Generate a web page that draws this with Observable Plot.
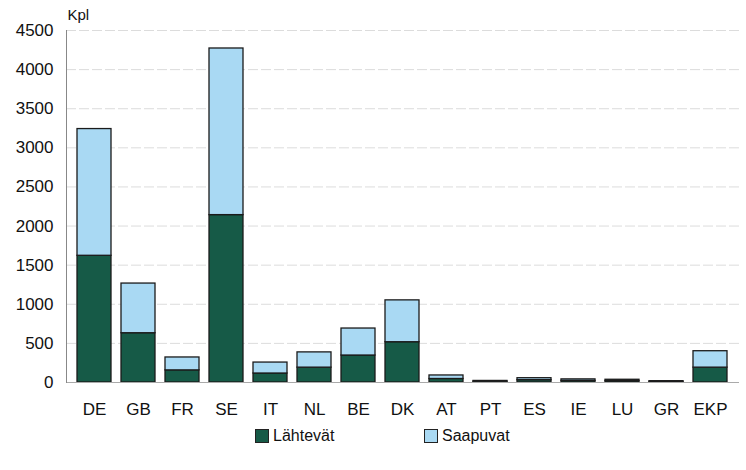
<!DOCTYPE html>
<html><head><meta charset="utf-8">
<script src="https://cdn.jsdelivr.net/npm/d3@7"></script>
<script src="https://cdn.jsdelivr.net/npm/@observablehq/plot@0.6"></script>
<style>
body{margin:0;background:#fff;font-family:"Liberation Sans",Arial,sans-serif;}
#legend{position:relative;height:48px;font-size:16px;color:#111;}
.item{position:absolute;top:5px;display:flex;align-items:center;}
.sw{width:12px;height:12px;border:1px solid #222;margin-right:4px;}
</style></head><body>
<div id="chart"></div>
<div id="legend"></div>
<script>
const countries = ["DE","GB","FR","SE","IT","NL","BE","DK","AT","PT","ES","IE","LU","GR","EKP"];
const lahtevat = [1620, 630, 155, 2140, 115, 190, 345, 515, 45, 10, 30, 20, 18, 8, 190];
const saapuvat = [1620, 635, 165, 2130, 140, 195, 345, 535, 45, 10, 25, 20, 17, 9, 210];
const seriesNames = ["Lähtevät","Saapuvat"];
const colors = ["#165a47","#a9d9f3"];
const yTicks = [0,500,1000,1500,2000,2500,3000,3500,4000,4500];

const data = [];
countries.forEach((c,i)=>{
  data.push({country:c, series:seriesNames[0], value:lahtevat[i]});
  data.push({country:c, series:seriesNames[1], value:saapuvat[i]});
});

const chart = Plot.plot({
  width:746, height:422,
  marginTop:30, marginBottom:40, marginLeft:66, marginRight:7,
  style:{fontFamily:"Liberation Sans, Arial, sans-serif", fontSize:"17px", color:"#111", background:"#fff"},
  x:{domain:countries, padding:0.22, label:null},
  y:{domain:[0,4500], label:null},
  color:{domain:seriesNames, range:colors},
  marks:[
    Plot.ruleY(yTicks.filter(d=>d>0), {stroke:"#dcdcdc", strokeWidth:1, strokeDasharray:"10,3"}),
    Plot.barY(data, Plot.stackY({x:"country", y:"value", fill:"series", order:seriesNames, stroke:"#1b1b1b", strokeWidth:1.3})),
    Plot.ruleY([0], {stroke:"#aaa"}),
    Plot.frame({anchor:"left", stroke:"#888"}),
    Plot.axisY({ticks:yTicks, tickSize:0, tickPadding:13, tickFormat:d=>String(d), fontSize:17}),
    Plot.axisX({tickSize:0, tickPadding:20, fontSize:17}),
    Plot.text(["Kpl"], {frameAnchor:"top-left", dx:1, dy:-21, textAnchor:"start", fontSize:15})
  ]
});
document.getElementById("chart").appendChild(chart);

const leg = document.getElementById("legend");
const lx = [255, 424];
seriesNames.forEach((s,i)=>{
  const it = document.createElement("div");
  it.className="item"; it.style.left = lx[i]+"px";
  it.innerHTML = `<span class="sw" style="background:${colors[i]}"></span><span>${s}</span>`;
  leg.appendChild(it);
});
</script>
</body></html>
